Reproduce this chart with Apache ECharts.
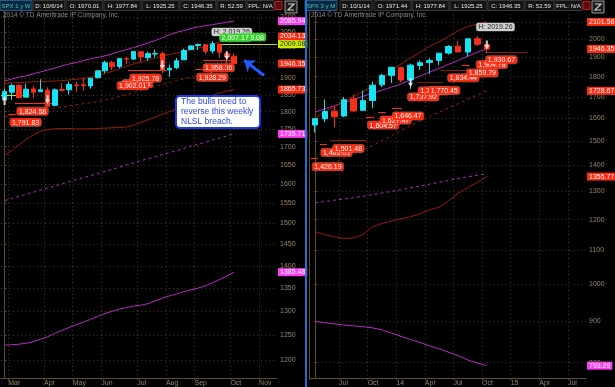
<!DOCTYPE html>
<html><head><meta charset="utf-8">
<script src="https://cdn.jsdelivr.net/npm/echarts@6/dist/echarts.min.js"></script>
<style>html,body{margin:0;padding:0;background:#000;overflow:hidden}#c{width:615px;height:387px}</style>
</head><body><div id="c"></div>
<script>
// ---------------- LEFT PANEL: SPX 1 y W (weekly) ----------------
const weekDates = ['2/24','3/3','3/10','3/17','3/24','3/31','4/7','4/14','4/21','4/28','5/5','5/12','5/19','5/26','6/2','6/9','6/16','6/23','6/30','7/7','7/14','7/21','7/28','8/4','8/11','8/18','8/25','9/1','9/8','9/15','9/22','9/29','10/6'];
const weekOpen  = [1836.78,1857.68,1878.26,1842.81,1867.67,1859.16,1863.92,1818.18,1865.79,1865.00,1879.45,1880.03,1876.66,1902.01,1923.87,1948.97,1937.15,1962.92,1960.79,1984.22,1965.10,1976.93,1978.25,1926.42,1933.43,1958.36,1991.74,2004.07,2007.17,1986.77,2009.08,1978.96,1970.01];
const weekClose = [1859.45,1878.04,1841.13,1866.52,1857.62,1865.09,1815.69,1864.85,1863.40,1881.14,1878.48,1877.86,1900.53,1923.57,1949.44,1936.16,1962.87,1960.96,1985.44,1967.57,1978.22,1978.34,1925.15,1931.59,1955.06,1988.40,2003.37,2007.71,1985.54,2010.40,1982.85,1967.90,1946.35];
const weekLow   = [1836.78,1834.44,1839.57,1842.81,1839.86,1859.16,1814.36,1815.80,1859.70,1850.61,1859.79,1862.36,1868.14,1902.01,1915.98,1925.78,1930.91,1944.69,1958.22,1952.86,1955.59,1965.77,1916.37,1904.78,1928.29,1958.36,1990.52,1990.10,1976.78,1978.48,1964.04,1926.03,1925.25];
const weekHigh  = [1867.92,1883.57,1882.35,1883.97,1875.92,1897.28,1872.53,1869.63,1884.89,1891.33,1889.07,1902.17,1901.26,1924.03,1955.55,1955.55,1963.91,1968.17,1985.59,1984.22,1983.94,1991.39,1984.60,1942.92,1964.04,1994.76,2005.04,2011.17,2007.17,2019.26,2009.08,1985.17,1977.84];
const weekUpperMagenta = [1892,1898,1904,1908,1914,1920,1926,1932,1939,1945,1950,1956,1962,1966,1971,1977,1985,1991,1998,2005,2013,2021,2030,2040,2048,2054,2061,2066,2070,2074,2078,2082,2085.94];
const weekUpperRed     = [1884,1886,1887,1888,1889,1890,1891,1892,1893,1895,1897,1900,1904,1909,1915,1922,1930,1938,1945,1952,1958,1964,1970,1975,1980,1985,1990,1996,2002,2009,2016,2025,2034.13];
const weekLowerRedDash = [1785,1789,1793,1797,1801,1805,1808,1811,1814,1817,1820,1823,1826,1830,1834,1839,1845,1851,1857,1863,1869,1875,1881,1887,1893,1899,1904,1909,1914,1919,1925,1931,1938];
const weekLowerRed     = [1675,1690,1705,1720,1733,1743,1748,1750,1751,1751,1750,1750,1750,1751,1752,1753,1754,1755,1760,1768,1776,1784,1792,1800,1808,1816,1825,1833,1840,1848,1855,1861,1865.73];
const weekMagentaDash  = [1557,1562,1568,1573,1578,1584,1589,1594,1600,1605,1611,1616,1622,1627,1633,1638,1644,1650,1655,1661,1667,1672,1678,1684,1689,1695,1701,1707,1712,1718,1724,1730,1735.71];
const weekMagentaLow   = [1230,1231,1232,1234,1237,1242,1247,1254,1260,1266,1272,1277,1283,1289,1295,1300,1304,1308,1311,1313,1316,1322,1328,1333,1337,1342,1346,1350,1355,1362,1369,1377,1385.48];
const weekMonthStart  = [1,6,10,14,19,23,27,32,36];
const weekMonthLabels = ['Mar','Apr','May','Jun','Jul','Aug','Sep','Oct','Nov'];
const weekPriceTicks  = [1200,1250,1300,1350,1400,1450,1500,1550,1600,1650,1700,1750,1800,1850,1900,1950,2000,2050,2100];
const weekArrowIdx   = [0,6,22,31];
const weekArrowPrice = [1833,1836,1942,1971];
const weekArrowDir   = ['up','down','down','down'];
const weekTags  = [['2085.94','mag'],['2034.13','red'],['2009.08','yel'],['1946.35','red'],['1865.73','red'],['1735.71','mag'],['1385.48','mag']];
// price notes: [week index, price, text, kind]
const weekNotes = [[0.76,1791.83,'1,791.83','low'],[1.73,1824.58,'1,824.58','low'],[16.4,1908.5,'1,916.11','low'],[15.7,1902.01,'1,902.01','low'],[17.5,1925.78,'1,925.78','low'],[26.8,1928.29,'1,928.29','low'],[27.7,1958.36,'1,958.36','low'],[28.9,2019.26,'H: 2,019.26','high'],[32.1,2009.08,'2,009.08','grn'],[30.0,2007.17,'2,007.17','grn']];
// level lines: [from index, to index, price, kind]
const weekLevels = [[0.48,1.6,1791.83,'red'],[1.45,7.03,1824.58,'red'],[17.2,22.6,1925.78,'red'],[26.6,30.5,1928.29,'red'],[27.7,32.4,1958.36,'red'],[29.8,38,2009.08,'yel'],[-0.5,2.5,1847,'yel']];

// ---------------- RIGHT PANEL: SPX 3 y M (monthly) ----------------
const monthDates = ['2013-04','2013-05','2013-06','2013-07','2013-08','2013-09','2013-10','2013-11','2013-12','2014-01','2014-02','2014-03','2014-04','2014-05','2014-06','2014-07','2014-08','2014-09','2014-10'];
const monthOpen  = [1569.18,1597.55,1631.71,1609.78,1689.42,1635.95,1682.41,1758.70,1806.55,1845.86,1782.68,1857.68,1873.96,1884.66,1923.87,1962.29,1929.80,2004.07,1971.44];
const monthClose = [1597.57,1630.74,1606.28,1685.73,1632.97,1681.55,1756.54,1805.81,1848.36,1782.59,1859.45,1872.34,1883.95,1923.57,1960.23,1930.67,2003.37,1972.29,1946.35];
const monthLow   = [1536.03,1581.28,1560.33,1604.57,1627.47,1633.41,1646.47,1746.20,1767.99,1770.45,1737.92,1834.44,1814.36,1859.79,1915.98,1930.67,1904.78,1964.04,1925.25];
const monthHigh  = [1597.57,1687.18,1654.19,1698.78,1709.67,1729.86,1775.22,1813.55,1849.44,1850.84,1867.92,1883.97,1897.28,1924.03,1968.17,1991.39,2005.04,2019.26,1977.84];
const monthUpperRed     = [1603,1629,1653,1677,1701,1726,1750,1793,1829,1866,1898,1928,1962,1986,2018,2050,2074,2089,2101.58];
const monthMidMagenta   = [1628,1643,1657,1672,1687,1702,1717,1732,1747,1763,1783,1802,1823,1843,1864,1885,1907,1929,1947];
const monthLowerRedDash = [1378,1395,1411,1428,1445,1461,1480,1501,1522,1544,1566,1587,1607,1627,1647,1667,1688,1708,1728.67];
const monthMagentaDash  = [1259,1263,1268,1272,1277,1282,1288,1294,1300,1306,1313,1320,1327,1334,1341,1348,1355,1361,1366];
const monthLowerRed     = [1160,1150,1143,1138,1139,1150,1176,1187,1195,1203,1210,1220,1234,1243,1266,1293,1314,1334,1355.77];
const monthMagentaLow   = [899,896,893,890,888,886,883,878,870,862,854,847,839,832,824,816,806,799,793.29];
const monthLabelStart = [3,6,9,12,15,18,21,24,27];
const monthLabelText  = ['Jul','Oct','14','Apr','Jul','Oct','15','Apr','Jul'];
const monthPriceTicks = [800,900,1000,1100,1200,1300,1400,1500,1600,1700,1800,1900,2000,2100];
const monthArrowIdx   = [10,18];
const monthArrowPrice = [1769,1968];
const monthArrowDir   = ['down','down'];
const monthTags = [['2101.58','red'],['1946.35','red'],['1728.67','red'],['1355.77','red'],['793.29','mag']];
const monthNotes = [[-0.3,1426.19,'1,426.19','low'],[0.6,1485.01,'1,485.01','low'],[1.85,1501.48,'1,501.48','low'],[5.5,1604.57,'1,604.57','low'],[6.8,1627.47,'1,627.47','low'],[9.7,1737.92,'1,737.92','low'],[8.1,1646.47,'1,646.47','low'],[10.8,1767.99,'1,767.99','low'],[11.9,1770.45,'1,770.45','low'],[13.9,1834.44,'1,834.44','low'],[15.9,1859.79,'1,859.79','low'],[16.9,1904.78,'1,904.78','low'],[17.9,1930.67,'1,930.67','low'],[16.9,2019.26,'H: 2019.26','high']];
const monthLevels = [[-0.44,0.29,1426.19,'red'],[0.5,1.24,1485.01,'red'],[1.55,5.43,1501.48,'dark'],[5.33,6.17,1604.57,'red'],[6.6,7.4,1627.47,'red'],[8.05,9.1,1646.47,'red'],[10.8,13.4,1770.45,'dark'],[13.1,16.2,1834.44,'dark'],[15.4,16.2,1859.79,'red'],[17.8,22.3,1930.67,'dark']];

// ---------------- helpers ----------------
const L = Math.log;
const UP = '#16e4f2', DOWN = '#f4301c';
const AXIS = '#5e4c22', GRIDC = '#4a3d1c', TXT = '#9a8760';
const FONT = 'Liberation Sans';
const TAGC = {red:['#ff2a10','#ffffff'], mag:['#ff3cf2','#ffffff'], yel:['#cdf000','#1a1a1a']};
const LVLC = {red:'#ff2a10', dark:'#8c1a0c', yel:'#c8e000'};
const DOWN_PATH = 'path://M3,0 L7,0 L7,6 L10,6 L5,12 L0,6 L3,6 Z';
const UP_PATH   = 'path://M5,0 L10,6 L7,6 L7,12 L3,12 L3,6 L0,6 Z';

const pts = arr => arr.map((v,i)=>[i, L(v)]);
const candles = (o,c,l,h) => o.map((v,i)=>[i, L(v), L(c[i]), L(l[i]), L(h[i])]);

function lineS(gi, arr, color, dashed, w){
  return {type:'line', xAxisIndex:gi, yAxisIndex:gi, data:pts(arr), symbol:'none', silent:true, z:2,
    lineStyle:{color, width:w||1, type: dashed ? [3,3] : 'solid'}};
}
function xAxisDef(gi, min, max, starts, labels){
  const vals = starts.map(s=>s-0.5);
  return {gridIndex:gi, type:'value', min, max,
    axisLine:{show:true, onZero:false, lineStyle:{color:AXIS}},
    axisTick:{show:true, length:2, customValues:vals, lineStyle:{color:AXIS}},
    axisLabel:{customValues:vals, color:TXT, fontSize:7, fontFamily:FONT, margin:2, align:'left',
      formatter:v=>labels[vals.indexOf(v)] || ''},
    splitLine:{show:true, lineStyle:{color:GRIDC, type:[1,3]}}};
}
function yAxisDef(gi, min, max, ticks){
  const vals = ticks.map(L);
  return {gridIndex:gi, type:'value', position:'right', min:L(min), max:L(max),
    axisLine:{show:true, lineStyle:{color:AXIS}},
    axisTick:{show:true, length:2, customValues:vals, lineStyle:{color:AXIS}},
    axisLabel:{customValues:vals, color:TXT, fontSize:7, fontFamily:FONT, margin:3,
      formatter:v=>String(Math.round(Math.exp(v)))},
    splitLine:{show:true, lineStyle:{color:GRIDC, type:[1,3]}}};
}
function arrowsS(gi, idx, price, dir){
  return {type:'scatter', xAxisIndex:gi, yAxisIndex:gi, silent:true, z:6,
    data: idx.map((x,k)=>({value:[x, L(price[k])], symbol: dir[k]==='up'?UP_PATH:DOWN_PATH})),
    symbolSize:[5,9], itemStyle:{color:'#ffffff'}};
}
function notesS(gi, notes, levels, extraLines){
  const mp = notes.map(n=>{
    const kind = n[3];
    let bg = '#ff2a10', fg = '#ffffff', pos = [0,4];
    if (kind==='high'){ bg='#d0d0d0'; fg='#222'; pos=[0,-13]; }
    if (kind==='grn'){ bg='#33d42a'; fg='#ffffff'; pos=[0,-11]; }
    return {coord:[n[0], L(n[1])], symbol:'rect', symbolSize:0.1, itemStyle:{color:'rgba(0,0,0,0)'},
      label:{show:true, position:pos, formatter:n[2], backgroundColor:bg, color:fg, fontSize:7, fontFamily:FONT,
        padding:[1,2,0,2], borderRadius:2, borderColor:'rgba(255,255,255,0.35)', borderWidth:0.5}};
  });
  const ml = levels.map(l=>[{coord:[l[0], L(l[2])], lineStyle:{color:LVLC[l[3]], width:1, type:'solid'}},{coord:[l[1], L(l[2])]}]);
  (extraLines||[]).forEach(e=>ml.push(e));
  return {type:'scatter', xAxisIndex:gi, yAxisIndex:gi, data:[], silent:true, z:7,
    markPoint:{silent:true, animation:false, data:mp},
    markLine:{silent:true, animation:false, symbol:['none','none'], label:{show:false}, data:ml}};
}
// price tags on the axis: a transparent line whose end label is the coloured box
function tagsS(gi, tags, xMin, xMax){
  return {type:'line', xAxisIndex:gi, yAxisIndex:gi, data:[], silent:true, z:8,
    markLine:{silent:true, animation:false, symbol:['none','none'],
      data: tags.map(t=>{
        const c = TAGC[t[1]], y = L(parseFloat(t[0]));
        return [{coord:[xMax-0.01, y], lineStyle:{color:'rgba(0,0,0,0)', width:0},
                  label:{show:true, position:'end', distance:1, formatter:t[0], backgroundColor:c[0], color:c[1],
                         fontSize:7, fontFamily:FONT, padding:[1,2,0,2]}},
                {coord:[xMax, y]}];
      })}};
}
function candleS(gi, o,c,l,h, w){
  return {type:'candlestick', xAxisIndex:gi, yAxisIndex:gi, data:candles(o,c,l,h), barWidth:w, z:5, silent:true,
    itemStyle:{color:UP, color0:DOWN, borderColor:UP, borderColor0:DOWN, borderWidth:1}};
}

// blue annotation arrow (week index / price anchors)
const blueArrow = [{coord:[36.2, L(1909)], symbol:'none', lineStyle:{color:'#2358ff', width:3, type:'solid'}},
                   {coord:[33.4, L(1957)], symbol:'arrow', symbolSize:[11,10]}];

// ---------------- header graphics ----------------
const HF = '6px ' + FONT;
function headerCells(x0, cells){
  const g = [];
  cells.forEach((c,k)=>{
    const [text, x, w] = c;
    const sym = k===0;
    g.push({type:'rect', shape:{x:x0+x, y:0.5, width:w, height:10}, style:{fill: sym?'#0b2744':'#141414', stroke: sym?'#2a5a8a':'#3a3a3a', lineWidth:1}, z:100});
    g.push({type:'text', x:x0+x+w/2, y:6, style:{text, fill: sym?'#3fd0a8':'#e6e6e6', font:HF, align:'center', verticalAlign:'middle'}, z:101});
  });
  return g;
}
const leftHead  = [['SPX 1 y W',0,32],['D: 10/6/14',33,32],['O: 1970.01',66,37],['H: 1977.84',104,37],['L: 1925.25',142,37],['C: 1946.35',180,36],['R: 52.59',217,29],['FPL: N/A',247,27]];
const rightHead = [['SPX 3 y M',0,32],['D: 10/1/14',35,32],['O: 1971.44',69,37],['H: 1977.84',107,37],['L: 1925.25',145,37],['C: 1946.35',183,36],['R: 52.59',220,29],['FPL: N/A',250,27]];

const graphics = [].concat(
  headerCells(0, leftHead), headerCells(305, rightHead),
  [
    {type:'rect', shape:{x:275, y:1.5, width:7, height:8}, style:{fill:'#5a0a0a', stroke:'#c02020'}, z:100},
    {type:'rect', shape:{x:583, y:1.5, width:7, height:8}, style:{fill:'#5a0a0a', stroke:'#c02020'}, z:100},
    {type:'rect', shape:{x:285, y:1, width:12, height:12}, style:{fill:'#1c1c1c', stroke:'#9a9a9a'}, z:100},
    {type:'polyline', shape:{points:[[288,4],[294,4],[288,10],[294,10]]}, style:{stroke:'#d0d0d0', lineWidth:1.2, fill:null}, z:101},
    {type:'rect', shape:{x:592, y:1, width:12, height:12}, style:{fill:'#1c1c1c', stroke:'#9a9a9a'}, z:100},
    {type:'polyline', shape:{points:[[595,4],[601,4],[595,10],[601,10]]}, style:{stroke:'#d0d0d0', lineWidth:1.2, fill:null}, z:101},
    {type:'text', x:3, y:15, style:{text:'2014 © TD Ameritrade IP Company, Inc.', fill:'#8c8c8c', font:'6.5px '+FONT, verticalAlign:'middle'}, z:100},
    {type:'text', x:311, y:15, style:{text:'2014 © TD Ameritrade IP Company, Inc.', fill:'#8c8c8c', font:'6.5px '+FONT, verticalAlign:'middle'}, z:100},
    {type:'rect', shape:{x:305, y:0, width:2, height:387}, style:{fill:'#1f6fd8'}, z:100},
    {type:'line', shape:{x1:309.5, y1:10, x2:309.5, y2:380}, style:{stroke:AXIS, lineWidth:1}, z:50},
    {type:'rect', shape:{x:176, y:96, width:84, height:32, r:4}, style:{fill:'#ffffff', stroke:'#1a3cf0', lineWidth:2}, z:100},
    {type:'text', x:181, y:112, style:{text:'The bulls need to\nreverse this weekly\nNLSL breach.', fill:'#2a45e8', font:'8.5px '+FONT, lineHeight:10, verticalAlign:'middle'}, z:101}
  ]
);

const chart = echarts.init(document.getElementById('c'), null, {renderer:'canvas'});
chart.setOption({
  backgroundColor:'#000000',
  animation:false,
  grid:[{left:1, top:10, width:276, height:370}, {left:309.5, top:10, width:276.5, height:370}],
  xAxis:[xAxisDef(0, -0.5, 38, weekMonthStart, weekMonthLabels), xAxisDef(1, -0.6, 28.4, monthLabelStart, monthLabelText)],
  yAxis:[yAxisDef(0, 1166, 2124, weekPriceTicks), yAxisDef(1, 766, 2174, monthPriceTicks)],
  series:[
    lineS(0, weekMagentaLow, '#b62cc6'),
    lineS(0, weekMagentaDash, '#a82cb8', true),
    lineS(0, weekLowerRed, '#9a1a0e'),
    lineS(0, weekLowerRedDash, '#9a1a0e', true),
    lineS(0, weekUpperRed, '#9a1a0e'),
    lineS(0, weekUpperMagenta, '#b62cc6'),
    candleS(0, weekOpen, weekClose, weekLow, weekHigh, 5),
    arrowsS(0, weekArrowIdx, weekArrowPrice, weekArrowDir),
    notesS(0, weekNotes, weekLevels, [blueArrow]),
    tagsS(0, weekTags, -0.5, 38),
    lineS(1, monthMagentaLow, '#b62cc6'),
    lineS(1, monthMagentaDash, '#a82cb8', true),
    lineS(1, monthLowerRed, '#9a1a0e'),
    lineS(1, monthLowerRedDash, '#9a1a0e', true),
    lineS(1, monthMidMagenta, '#b62cc6'),
    lineS(1, monthUpperRed, '#9a1a0e'),
    candleS(1, monthOpen, monthClose, monthLow, monthHigh, 6),
    arrowsS(1, monthArrowIdx, monthArrowPrice, monthArrowDir),
    notesS(1, monthNotes, monthLevels),
    tagsS(1, monthTags, -0.6, 28.4)
  ],
  graphic: graphics
});
</script></body></html>
